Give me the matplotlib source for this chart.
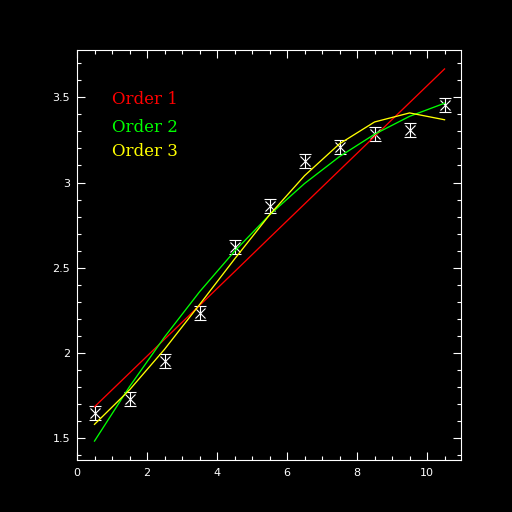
import numpy as np
import matplotlib
matplotlib.use("Agg")
import matplotlib.pyplot as plt
from matplotlib.ticker import MultipleLocator, FixedLocator

# Data
x = [0.5, 1.5, 2.5, 3.5, 4.5, 5.5, 6.5, 7.5, 8.5, 9.5, 10.5]
y = [1.648, 1.729, 1.953, 2.236, 2.622, 2.862, 3.126, 3.207, 3.285, 3.308, 3.455]
yerr = [0.042] * 11

# Fit curves (evaluated at the data x values)
fit1 = [1.685, 1.883, 2.081, 2.279, 2.477, 2.676, 2.874, 3.072, 3.270, 3.468, 3.666]
fit2 = [1.484, 1.803, 2.094, 2.359, 2.597, 2.810, 2.994, 3.152, 3.283, 3.388, 3.465]
fit3 = [1.582, 1.784, 2.022, 2.284, 2.551, 2.810, 3.040, 3.227, 3.355, 3.408, 3.368]

labels = ["Order 1", "Order 2", "Order 3"]
colors = ["#ff0000", "#00ff00", "#ffff00"]

xticks = [0, 2, 4, 6, 8, 10]
xticklabels = ["0", "2", "4", "6", "8", "10"]
yticks = [1.5, 2.0, 2.5, 3.0, 3.5]
yticklabels = ["1.5", "2", "2.5", "3", "3.5"]

fig = plt.figure(figsize=(5.12, 5.12), dpi=100, facecolor="black")
ax = fig.add_axes([77 / 512, 52 / 512, 384 / 512, 410 / 512], facecolor="black")

ax.set_xlim(0, 10.97)
ax.set_ylim(1.373, 3.777)

lw = 0.8
ax.errorbar(x, y, yerr=yerr, fmt="x", color="white", ms=7.5, mew=lw,
            elinewidth=lw, capsize=4.3, capthick=lw, zorder=3)

for f, c in zip([fit1, fit2, fit3], colors):
    ax.plot(x, f, color=c, lw=0.95, zorder=4)

legend_y = [3.484, 3.325, 3.179]
for lab, c, ly in zip(labels, colors, legend_y):
    ax.text(1.0, ly, lab, color=c, fontsize=12, family="DejaVu Serif",
            va="center", ha="left")

for s in ax.spines.values():
    s.set_color("white")
    s.set_linewidth(lw)

ax.xaxis.set_major_locator(FixedLocator(xticks))
ax.set_xticklabels(xticklabels)
ax.yaxis.set_major_locator(FixedLocator(yticks))
ax.set_yticklabels(yticklabels)
ax.xaxis.set_minor_locator(MultipleLocator(0.5))
ax.yaxis.set_minor_locator(MultipleLocator(0.1))
ax.tick_params(which="both", direction="in", color="white", width=lw,
               top=True, right=True, labelcolor="white", labelsize=8)
ax.tick_params(which="major", length=6)
ax.tick_params(which="minor", length=3)
ax.tick_params(axis="x", pad=6)
ax.tick_params(axis="y", pad=5)

fig.savefig("out.png", dpi=100, facecolor="black")
